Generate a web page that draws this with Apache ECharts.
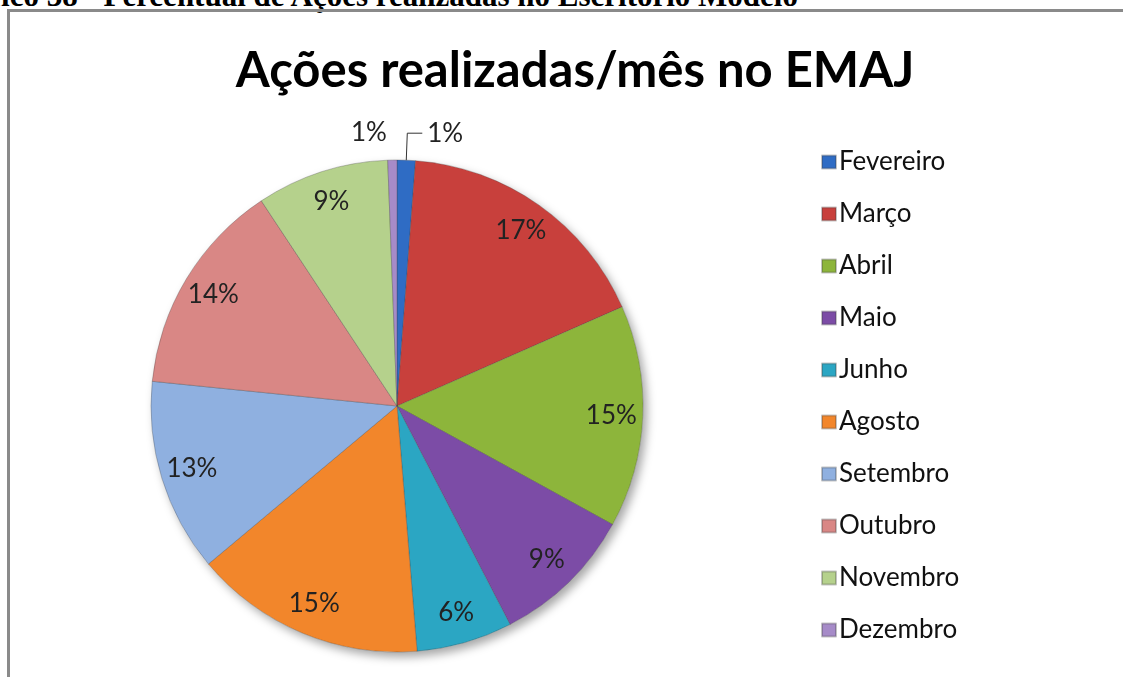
<!DOCTYPE html>
<html>
<head>
<meta charset="utf-8">
<script src="https://cdn.jsdelivr.net/npm/echarts@6/dist/echarts.min.js"></script>
<style>
  html, body { margin: 0; padding: 0; background: #fff; overflow: hidden; }
  #caption {
    position: absolute; right: 325px; top: -20px; white-space: nowrap; line-height: 31px;
    font-family: "Liberation Serif", serif; font-weight: bold; font-size: 31px; color: #000;
  }
  #frame {
    position: absolute; left: 7px; top: 9px; width: 1130px; height: 680px;
    border-left: 3px solid #8a8a8a; border-top: 3px solid #8a8a8a; box-sizing: border-box;
  }
  #chart { position: absolute; left: 0; top: 0; width: 1123px; height: 677px; }
</style>
</head>
<body>
<div id="caption">Gráfico 38 - Percentual de Ações realizadas no Escritório Modelo</div>
<div id="frame"></div>
<div id="chart"></div>
<script>
// dados (percentual por mês)
const months = ["Fevereiro", "Março", "Abril", "Maio", "Junho", "Agosto", "Setembro", "Outubro", "Novembro", "Dezembro"];
const values = [1.2, 17.2, 14.6, 9.4, 6.3, 15.2, 12.7, 14.1, 8.7, 0.6];
const colors = ["#2f6cc4", "#c8403c", "#8db53b", "#7c4ca6", "#2ba6c3", "#f2862b", "#8fb0e0", "#d98785", "#b5d18c", "#a68bc8"];

const chart = echarts.init(document.getElementById("chart"));

const pieData = months.map((m, i) => ({ name: m, value: values[i], itemStyle: { color: colors[i] } }));

// serie só para os rótulos (anel externo transparente)
const labelData = months.map((m, i) => {
  const item = { name: m, value: values[i], itemStyle: { color: "transparent" } };
  if (values[i] < 2) {
    item.label = { position: "outside" };
    item.labelLine = i === 0 ? { show: true, length: 27, length2: 15 } : { show: false, length: 27, length2: 0 };
  }
  return item;
});

const center = [397, 406];
const R = 246;

chart.setOption({
  animation: false,
  title: {
    text: "Ações realizadas/mês no EMAJ",
    left: 570,
    textAlign: "center",
    top: 42,
    textStyle: { fontFamily: "Lato", fontWeight: "bold", fontSize: 49, color: "#000" }
  },
  legend: {
    data: months,
    orient: "vertical",
    left: 816,
    top: 144,
    itemGap: 26,
    itemWidth: 14,
    itemHeight: 13,
    icon: "rect",
    selectedMode: false,
    textStyle: { fontFamily: "Lato", fontSize: 26, color: "#111", padding: [0, 0, 0, -2] }
  },
  series: [
    {
      // sombra do disco
      type: "pie",
      silent: true,
      center: center,
      radius: R,
      z: 1,
      label: { show: false },
      itemStyle: { color: "#fff", shadowBlur: 10, shadowOffsetX: 4, shadowOffsetY: 5, shadowColor: "rgba(0,0,0,0.35)" },
      data: [{ name: "_bg", value: 1 }]
    },
    {
      type: "pie",
      center: center,
      radius: R,
      startAngle: 90,
      z: 2,
      label: { show: false },
      labelLine: { show: false },
      itemStyle: { borderColor: "rgba(60,60,60,0.3)", borderWidth: 1 },
      data: pieData
    },
    {
      type: "pie",
      silent: true,
      center: center,
      radius: [R * 0.72, R],
      startAngle: 90,
      z: 3,
      avoidLabelOverlap: false,
      label: {
        show: true,
        position: "inside",
        formatter: p => Math.round(p.percent) + "%",
        fontFamily: "Lato",
        fontSize: 26,
        color: "#222"
      },
      labelLine: { show: false, lineStyle: { color: "#333", width: 1 } },
      data: labelData
    }
  ]
});
</script>
</body>
</html>
